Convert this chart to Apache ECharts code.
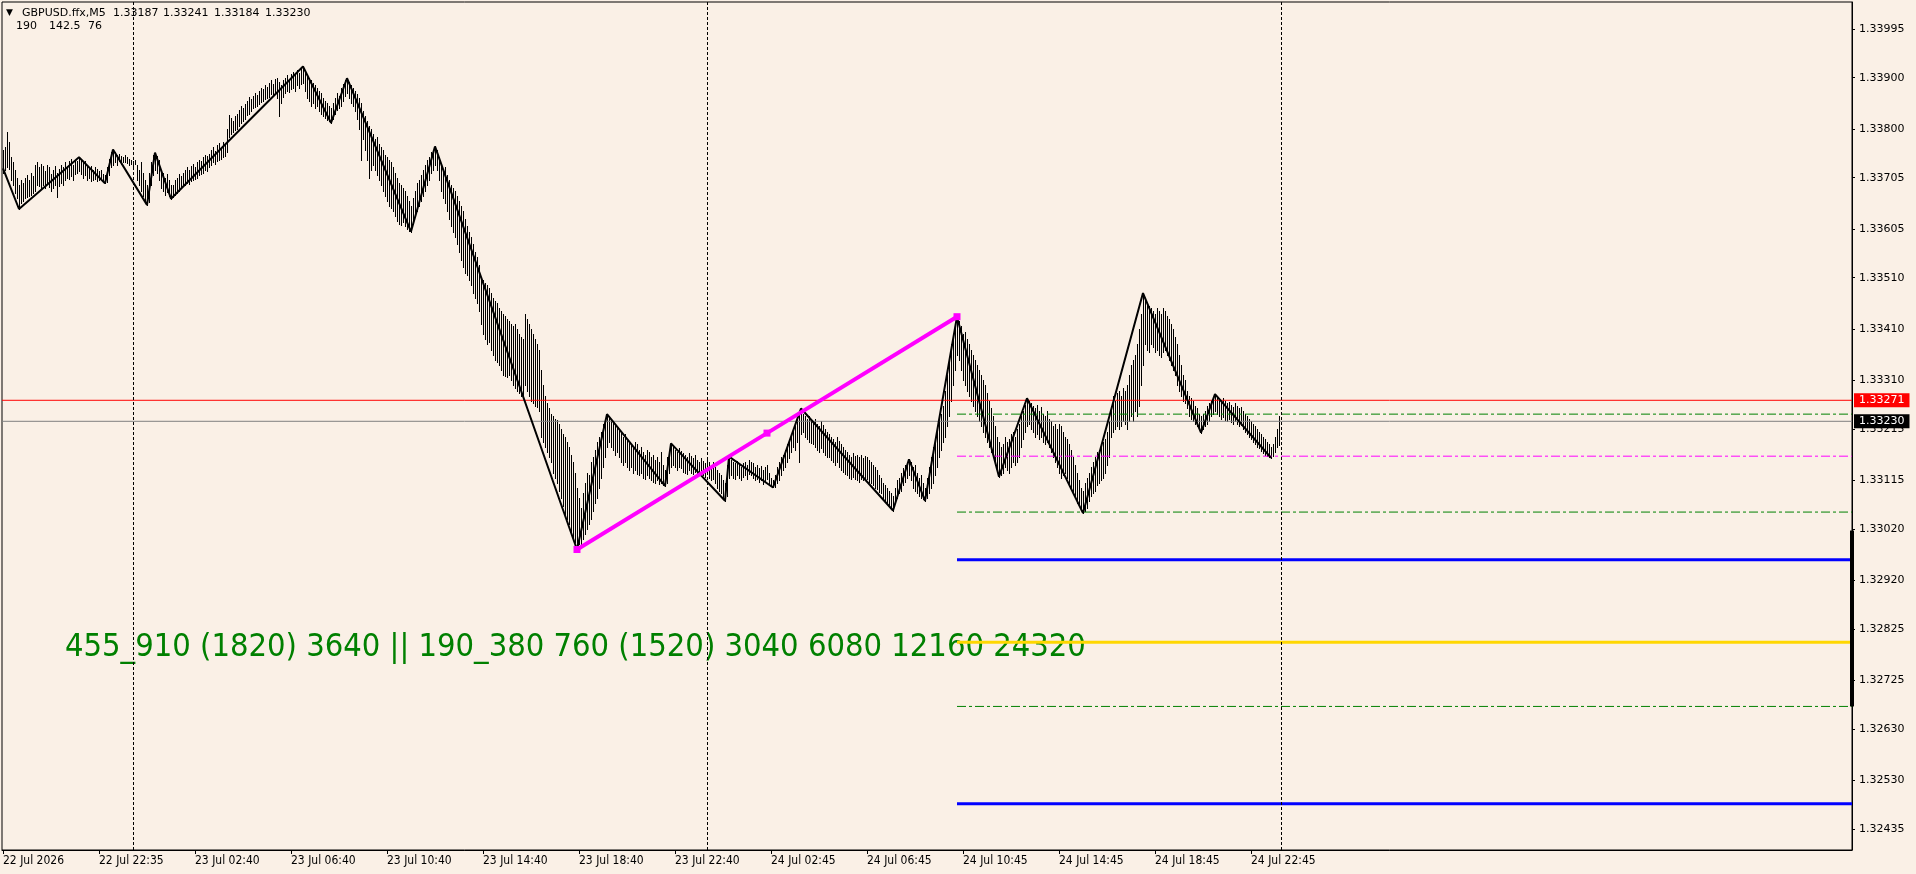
<!DOCTYPE html>
<html><head><meta charset="utf-8">
<script src="https://cdn.jsdelivr.net/npm/echarts@6/dist/echarts.min.js"></script>
<style>html,body{margin:0;padding:0;background:#FAF0E6;}#c{width:1916px;height:874px;}</style>
</head><body><div id="c"></div>
<script>
// ---------- data (prices stored as points: price = 1 + v / 100000) ----------
const symbolName = 'GBPUSD.ffx,M5';
const lastOHLC = ['1.33187', '1.33241', '1.33184', '1.33230'];
const indicatorValues = ['190', '142.5', '76'];
const cycleText = '455_910 (1820) 3640 || 190_380 760 (1520) 3040 6080 12160 24320';

const xTickIdx = [0, 48, 96, 144, 192, 240, 288, 336, 384, 432, 480, 528, 576, 624];
const xTickLabels = ['22 Jul 2026', '22 Jul 22:35', '23 Jul 02:40', '23 Jul 06:40', '23 Jul 10:40', '23 Jul 14:40',
  '23 Jul 18:40', '23 Jul 22:40', '24 Jul 02:45', '24 Jul 06:45', '24 Jul 10:45', '24 Jul 14:45', '24 Jul 18:45', '24 Jul 22:45'];
const yTickLabels = ['1.33995', '1.33900', '1.33800', '1.33705', '1.33605', '1.33510', '1.33410', '1.33310', '1.33215',
  '1.33115', '1.33020', '1.32920', '1.32825', '1.32725', '1.32630', '1.32530', '1.32435'];

const barHigh = [
// 0
33760,33765,33794,33775,33745,33735,33720,33705,33690,
// 9
33700,33695,33705,33710,33700,33715,33708,33730,33735,33725,
33732,33728,33718,33730,33725,33712,33720,33728,33715,33722,
33730,33725,33735,33728,33738,33742,33730,33740,33738,33745,
// 39
33740,33735,33738,33730,33725,33728,33720,33725,33722,33718,33720,33712,33710,
// 52
33725,33742,33755,33760,
// 56
33755,33750,33752,33748,33745,33750,33746,33742,33740,33738,33740,33730,33720,33735,33715,33700,33690,
// 73
33715,33735,33750,33754,
// 77
33748,33740,33720,33715,33705,33712,33700,33690,
// 85
33690,33700,33705,33712,33708,33715,33720,33725,33720,33728,
33732,33725,33735,33740,33738,33745,33750,33748,33752,33760,
33765,33758,33768,33772,33765,33775,33770,33800,33828,33822,
33815,33825,33830,33838,33845,33840,33848,33855,33862,33858,
33865,33870,33866,33875,33880,33878,33885,33882,33890,33895,
33888,33898,33900,33892,33885,33895,33900,33905,33898,33908,
// 145
33912,33905,33915,33910,33918,33922,
// 151
33915,33905,33900,33895,33890,33885,33880,33875,33870,33860,33855,33850,33845,33840,
// 165
33850,33860,33870,33865,33880,33888,33895,33899,
// 173
33892,33885,33880,33875,33868,33860,33850,33835,33825,33815,
33805,33800,33790,33780,33785,33770,33765,33760,33750,33745,
// 193
33740,33735,33725,33715,33705,33695,33690,33685,33680,33670,33660,33650,
// 205
33665,33680,33695,33700,33710,33720,33730,33740,33745,33755,33760,33766,
// 217
33760,33745,33730,33720,33725,33710,33700,33690,33685,33680,
33670,33660,33650,33640,33625,33610,33600,33590,33575,33560,
33550,33535,33510,33506,33500,33495,33490,33480,33470,33465,
33460,33450,33445,33440,33435,33430,33425,33420,33415,33420,
33410,33400,33395,33390,33440,33430,33420,33410,33400,33390,
33380,33370,33330,33300,33280,33265,33255,33245,33240,33235,
// 277
33233,33225,33215,33205,33200,33190,33180,33165,33150,33130,33100,
// 288
33080,33060,33090,33110,33130,33125,33150,33160,33175,33190,33200,33210,33225,33235,33244,
// 303
33240,33235,33230,33225,33220,33215,33210,33200,33205,33195,
33190,33185,33180,33190,33185,33175,33180,33170,33165,33175,
// 323
33170,33160,33165,33155,33160,33150,33170,33145,33135,
// 332
33160,33175,33187,
// 335
33180,33175,33170,33178,33172,33168,33165,33160,33168,33162,
33158,33165,33155,33150,33158,33152,33148,33155,33150,33145,
// 355
33150,33140,33135,33130,33125,33115,33110,
// 362
33145,33161,
// 364
33155,33150,33148,33152,33145,33140,33148,33150,33145,33155,
// 374
33150,33148,33140,33145,33138,33142,33135,33140,33145,33130,33120,33115,
// 386
33125,33140,33150,33160,33165,33175,33185,33195,33205,33215,33220,33232,33245,33255,
// 400
33245,33240,33235,33240,33232,33228,33235,33225,33220,33230,
33222,33215,33210,33205,33200,33195,33190,33200,33192,33185,
33180,33175,33170,33165,33160,33168,33162,33165,33160,33165,
33158,33162,33160,33155,33150,33145,33140,33135,33125,33120,
// 440
33110,33105,33100,33095,33090,33085,
// 446
33100,33115,33120,33130,33138,33145,33150,33156,
// 454
33150,33140,33145,33130,33120,33125,33110,33100,
// 462
33120,33140,33160,33180,33200,33215,33230,33245,33260,33290,33320,33350,33380,33400,33420,33434,
// 478
33425,33415,33400,33405,33390,33380,33370,33360,33350,33340,
// 488
33330,33320,33310,33300,33285,33270,33255,33240,33220,33200,33190,
// 499
33180,33185,33200,33190,33195,33205,33210,33200,33215,33225,33240,33250,33262,33275,
// 513
33270,33265,33260,33255,33262,33250,33258,33245,33240,33250,
33235,33230,33220,33225,33215,33225,33220,33210,33200,33195,
// 533
33185,33175,33160,33145,33130,33115,33100,33095,
// 541
33110,33120,33130,33140,33150,33160,33170,33175,33180,33190,
33195,33210,33230,33260,33280,33270,33285,33290,33280,33295,
33290,33300,33320,33340,33350,33360,33380,33410,33440,33480,
// 571
33470,33460,33455,33450,33445,33440,33450,33445,33440,33450,
33445,33435,33430,33420,33410,33395,33380,33360,33340,33320,
// 591
33310,33290,33280,33275,33270,33260,33255,33245,33240,
// 600
33245,33250,33260,33265,33270,33275,33283,
// 607
33278,33272,33268,33275,33270,33265,33268,33262,33258,33265,
33260,33255,33258,33250,33245,33240,33235,33230,33225,33220,
// 627
33215,33210,33205,33200,33195,33190,33185,33180,
// 635
33185,33200,33215,33241
];

const barLow = [
// 0
33715,33720,33725,33722,33700,33690,33675,33665,33644,
// 9
33655,33660,33665,33668,33670,33672,33675,33680,33690,33688,
33685,33690,33684,33692,33686,33680,33685,33690,33668,33688,
33695,33690,33700,33705,33702,33708,33700,33712,33715,33718,
// 39
33712,33705,33710,33700,33705,33698,33700,33702,33698,33700,33702,33698,33694,
// 52
33697,33710,33725,33730,
// 56
33735,33730,33738,33732,33735,33736,33733,33730,33732,33728,33731,33700,33690,33680,33670,33660,33652,
// 73
33658,33690,33710,33720,
// 77
33715,33700,33685,33680,33672,33678,33670,33664,
// 85
33668,33672,33675,33680,33684,33688,33690,33695,33692,33698,
33700,33702,33705,33710,33712,33715,33720,33718,33725,33730,
33735,33732,33738,33740,33742,33745,33748,33755,33785,33790,
33795,33798,33800,33805,33812,33815,33820,33828,33830,33835,
33840,33842,33845,33848,33852,33855,33858,33860,33862,33868,
33865,33870,33860,33825,33850,33862,33870,33875,33872,33878,
// 145
33880,33875,33885,33880,33888,33890,
// 151
33875,33860,33855,33845,33850,33840,33845,33835,33830,33825,33822,33818,33815,33812,
// 165
33820,33830,33838,33840,33845,33855,33865,33870,
// 173
33860,33850,33845,33835,33820,33800,33740,33780,33760,33740,
33705,33720,33730,33720,33710,33700,33690,33680,33670,33660,
// 193
33650,33645,33640,33630,33620,33615,33612,33618,33610,33605,33602,33600,
// 205
33615,33630,33640,33650,33660,33670,33680,33690,33700,33715,33720,33730,
// 217
33720,33700,33680,33665,33655,33640,33625,33610,33600,33590,
33575,33560,33545,33530,33520,33515,33505,33495,33480,33470,
33460,33445,33420,33400,33390,33380,33385,33370,33360,33350,
33345,33340,33330,33320,33318,33316,33320,33310,33300,33295,
33290,33285,33280,33275,33300,33290,33280,33270,33265,33260,
33258,33250,33200,33190,33180,33170,33160,33150,33130,33120,
// 277
33110,33095,33080,33065,33050,33040,33030,33015,33005,32995,32980,
// 288
32990,32985,33000,33010,33020,33030,33040,33055,33070,33080,33100,33120,33140,33160,33180,
// 303
33190,33180,33175,33165,33170,33160,33150,33145,33150,33140,
33135,33140,33130,33135,33128,33125,33130,33120,33118,33125,
// 323
33120,33115,33112,33110,33115,33108,33110,33106,33104,
// 332
33110,33130,33140,
// 335
33145,33140,33135,33140,33138,33132,33130,33128,33135,33130,
33128,33132,33125,33130,33128,33125,33122,33128,33120,33115,
// 355
33118,33110,33100,33095,33090,33080,33075,
// 362
33085,33120,
// 364
33125,33120,33118,33125,33120,33115,33122,33125,33118,33128,
// 374
33125,33120,33115,33118,33112,33115,33108,33112,33118,33108,33104,33101,
// 386
33102,33110,33115,33125,33135,33140,33150,33158,33170,33180,33175,33190,33150,33205,
// 400
33210,33200,33195,33190,33188,33185,33180,33175,33170,33178,
33170,33165,33160,33160,33155,33150,33145,33150,33140,33135,
33132,33128,33125,33120,33118,33122,33118,33115,33112,33118,
33115,33120,33118,33112,33110,33105,33100,33098,33092,33090,
// 440
33080,33075,33070,33065,33060,33056,
// 446
33070,33080,33090,33095,33105,33112,33120,33125,
// 454
33115,33100,33095,33090,33085,33080,33078,33075,
// 462
33080,33090,33100,33110,33125,33140,33160,33175,33190,33200,33220,33240,33270,33300,33330,33360,
// 478
33350,33330,33310,33300,33290,33280,33270,33260,33250,33240,
// 488
33230,33220,33210,33200,33190,33180,33170,33160,33145,33135,33122,
// 499
33125,33130,33140,33135,33130,33140,33150,33145,33150,33160,33180,33195,33210,33220,
// 513
33225,33215,33210,33200,33205,33195,33200,33190,33185,33190,
33180,33170,33160,33150,33140,33130,33120,33125,33130,33120,
// 533
33110,33100,33090,33080,33070,33065,33058,33051,
// 541
33055,33060,33075,33085,33090,33095,33105,33110,33115,33120,
33130,33145,33160,33200,33210,33215,33220,33215,33220,33230,
33225,33215,33230,33240,33230,33250,33240,33260,33300,33340,
// 571
33380,33370,33365,33380,33375,33365,33370,33360,33355,33365,
33370,33360,33350,33340,33330,33320,33300,33290,33280,33270,
// 591
33265,33255,33240,33235,33230,33225,33220,33215,33208,
// 600
33215,33220,33225,33230,33240,33245,33250,
// 607
33245,33240,33235,33238,33232,33230,33235,33228,33225,33230,
33225,33220,33222,33215,33210,33205,33200,33195,33190,33185,
// 627
33180,33178,33172,33168,33165,33162,33160,33159,
// 635
33162,33170,33180,33184
];

const zigzagIdx = [0, 8, 38, 51, 55, 72, 76, 84, 150, 164, 172, 204, 216, 287, 302, 331, 334, 361, 363, 385,
  399, 445, 453, 461, 477, 498, 512, 540, 570, 599, 606, 634];
const zigzagVal = [33723, 33644, 33745, 33694, 33760, 33652, 33754, 33664, 33922, 33812, 33899, 33600, 33766, 32980,
  33244, 33104, 33187, 33075, 33161, 33101, 33255, 33056, 33156, 33075, 33434, 33122, 33275, 33051, 33480, 33208,
  33283, 33159];

const channelIdx = [287, 382, 477];
const channelVal = [32980, 33207, 33434];

const levelStartIdx = 477;
const greenLevels = [33244, 33053, 32674];
const magentaLevels = [33162];
const blueLevels = [32960, 32484];
const goldLevels = [32799];
const rangeBarVals = [33017, 32674];
const askPrice = 33271;
const bidPrice = 33230;
const daySeparatorIdx = [65, 352, 639];

// ---------- build ----------
if (barHigh.length !== barLow.length) throw new Error('len mismatch ' + barHigh.length + ' ' + barLow.length);
const P = v => 1 + v / 100000;
const X_MIN = -0.5, X_MAX = 924.5;
const Y_MIN = 1.3239405, Y_MAX = 1.3404765;

const barData = barHigh.map((h, i) => [i, P(h), P(barLow[i])]);
const zigzagData = zigzagIdx.map((x, i) => [x, P(zigzagVal[i])]);
const channelData = channelIdx.map((x, i) => [x, P(channelVal[i])]);

const dashDot = [9, 3, 3, 3];
const levelSeries = [];
function addLevels(vals, color, width, type) {
  vals.forEach(v => levelSeries.push({
    type: 'line', silent: true, symbol: 'none', z: 4,
    data: [[levelStartIdx, P(v)], [X_MAX, P(v)]],
    lineStyle: { color, width, type }
  }));
}
addLevels(greenLevels, '#008000', 1, dashDot);
addLevels(magentaLevels, '#FF00FF', 1, dashDot);
addLevels(blueLevels, '#0000FF', 3, 'solid');
addLevels(goldLevels, '#FFD700', 3, 'solid');

const baseFont = '"DejaVu Sans", sans-serif';
const condFont = '"DejaVu Sans Condensed", "DejaVu Sans", sans-serif';

function priceLine(val, lineColor, boxColor) {
  return {
    type: 'line', silent: true, symbol: 'none', z: 3, clip: false,
    data: [[X_MIN, P(val)], [X_MAX, P(val)]],
    lineStyle: { color: lineColor, width: 1 },
    endLabel: {
      show: true, distance: 2, formatter: () => P(val).toFixed(5),
      color: '#fff', backgroundColor: boxColor, padding: [1, 5, 1, 5],
      fontFamily: baseFont, fontSize: 11, lineHeight: 12
    }
  };
}

const chart = echarts.init(document.getElementById('c'), null, { renderer: 'canvas' });
chart.setOption({
  animation: false,
  backgroundColor: '#FAF0E6',
  grid: { left: 2, right: 64, top: 2, bottom: 24, show: true, borderColor: '#000', borderWidth: 1, outerBoundsMode: 'none' },
  xAxis: {
    type: 'value', min: X_MIN, max: X_MAX, splitLine: { show: false },
    axisLine: { show: true, onZero: false, lineStyle: { color: '#000', width: 1 } },
    axisTick: { show: true, length: 4, lineStyle: { color: '#000' }, customValues: xTickIdx },
    axisLabel: {
      customValues: xTickIdx, color: '#000', fontFamily: condFont, fontSize: 12, align: 'left', margin: 5,
      formatter: v => { const k = xTickIdx.indexOf(Math.round(v)); return k >= 0 ? xTickLabels[k] : ''; }
    }
  },
  yAxis: {
    type: 'value', position: 'right', min: Y_MIN, max: Y_MAX, splitLine: { show: false },
    axisLine: { show: true, onZero: false, lineStyle: { color: '#000', width: 1 } },
    axisTick: { show: true, length: 3, lineStyle: { color: '#000' }, customValues: yTickLabels.map(Number) },
    axisLabel: {
      customValues: yTickLabels.map(Number), color: '#000', fontFamily: baseFont, fontSize: 11, margin: 7,
      formatter: v => v.toFixed(5)
    }
  },
  graphic: [
    { type: 'text', x: 6, y: 13, style: { text: '▼', font: '9px ' + baseFont, fill: '#000', textVerticalAlign: 'middle', verticalAlign: 'middle' } },
    { type: 'text', x: 22, y: 13, style: { text: symbolName, font: '11px ' + baseFont, fill: '#000', textVerticalAlign: 'middle', verticalAlign: 'middle' } },
    { type: 'text', x: 113, y: 13, style: { text: lastOHLC[0], font: '11px ' + baseFont, fill: '#000', textVerticalAlign: 'middle', verticalAlign: 'middle' } },
    { type: 'text', x: 163, y: 13, style: { text: lastOHLC[1], font: '11px ' + baseFont, fill: '#000', textVerticalAlign: 'middle', verticalAlign: 'middle' } },
    { type: 'text', x: 214, y: 13, style: { text: lastOHLC[2], font: '11px ' + baseFont, fill: '#000', textVerticalAlign: 'middle', verticalAlign: 'middle' } },
    { type: 'text', x: 265, y: 13, style: { text: lastOHLC[3], font: '11px ' + baseFont, fill: '#000', textVerticalAlign: 'middle', verticalAlign: 'middle' } },
    { type: 'text', x: 16, y: 26, style: { text: indicatorValues[0], font: '11px ' + baseFont, fill: '#000', textVerticalAlign: 'middle', verticalAlign: 'middle' } },
    { type: 'text', x: 49, y: 26, style: { text: indicatorValues[1], font: '11px ' + baseFont, fill: '#000', textVerticalAlign: 'middle', verticalAlign: 'middle' } },
    { type: 'text', x: 88, y: 26, style: { text: indicatorValues[2], font: '11px ' + baseFont, fill: '#000', textVerticalAlign: 'middle', verticalAlign: 'middle' } },
    { type: 'text', x: 65, y: 648, z: 1, style: { text: cycleText, font: '32.4px ' + condFont, fill: '#008000', textVerticalAlign: 'middle', verticalAlign: 'middle' } }
  ],
  series: [
    {
      type: 'custom', silent: true, z: 2, clip: true,
      data: barData,
      encode: { x: 0, y: [1, 2] },
      renderItem: (params, api) => {
        const hi = api.coord([api.value(0), api.value(1)]);
        const lo = api.coord([api.value(0), api.value(2)]);
        const x = Math.round(hi[0]) + 0.5;
        return { type: 'line', shape: { x1: x, y1: Math.round(hi[1]), x2: x, y2: Math.round(lo[1]) + 1 }, style: { stroke: '#000', lineWidth: 1 } };
      },
      markLine: {
        silent: true, symbol: ['none', 'none'], animation: false,
        label: { show: false },
        lineStyle: { color: '#000', width: 1, type: [3, 2] },
        data: daySeparatorIdx.map(x => ({ xAxis: x }))
      }
    },
    priceLine(askPrice, '#FF0000', '#FF0000'),
    priceLine(bidPrice, '#808080', '#000000'),
    ...levelSeries,
    { type: 'line', silent: true, symbol: 'none', z: 5, data: zigzagData, lineStyle: { color: '#000', width: 2 } },
    { type: 'line', silent: true, symbol: 'rect', symbolSize: 7, showSymbol: true, z: 6, data: channelData,
      itemStyle: { color: '#FF00FF' }, lineStyle: { color: '#FF00FF', width: 4 } },
    { type: 'line', silent: true, symbol: 'none', z: 7, clip: false,
      data: [[X_MAX, P(rangeBarVals[0])], [X_MAX, P(rangeBarVals[1])]], lineStyle: { color: '#000', width: 4 } }
  ]
});
</script>
</body></html>
